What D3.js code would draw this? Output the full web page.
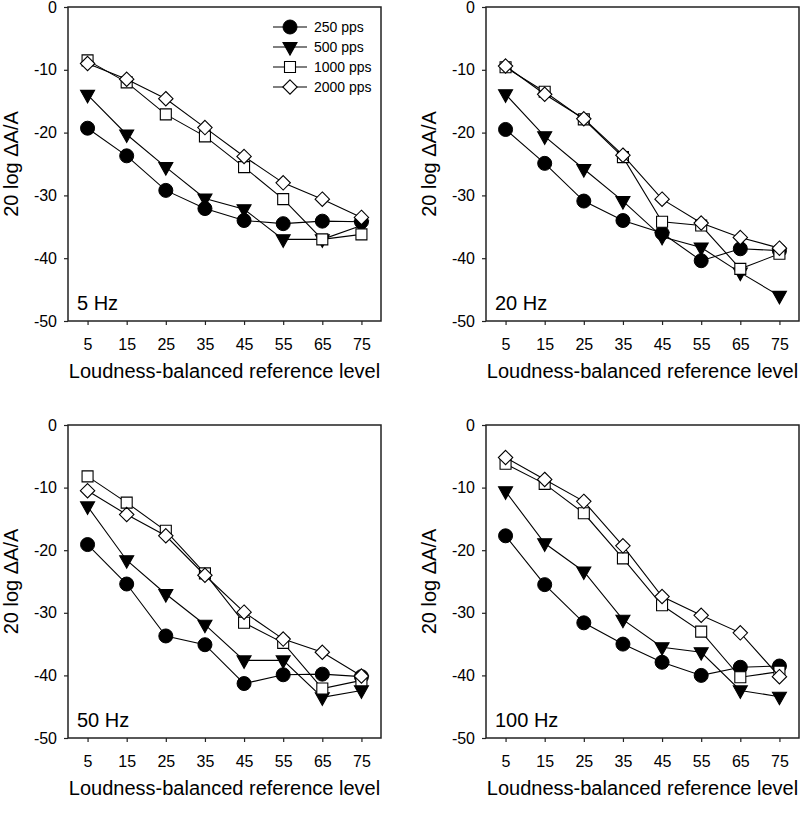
<!DOCTYPE html>
<html>
<head>
<meta charset="utf-8">
<script src="https://cdn.jsdelivr.net/npm/d3@7"></script>
<style>
  html, body { margin: 0; padding: 0; background: #fff; }
  svg { display: block; font-family: "Liberation Sans", Arial, sans-serif; }
</style>
</head>
<body>
<svg id="chart" width="800" height="828"></svg>
<script>
// ---------- data ----------
const levels = [5, 15, 25, 35, 45, 55, 65, 75];
const xTicks = [5, 15, 25, 35, 45, 55, 65, 75];
const yTicks = [0, -10, -20, -30, -40, -50];
const seriesNames = ["250 pps", "500 pps", "1000 pps", "2000 pps"];
const panelLabels = ["5 Hz", "20 Hz", "50 Hz", "100 Hz"];
const xTitle = "Loudness-balanced reference level";
const yTitle = "20 log \u0394A/A";

// 5 Hz
const hz5_250  = [-19.3, -23.7, -29.2, -32.1, -34.0, -34.5, -34.1, -34.2];
const hz5_500  = [-14.0, -20.3, -25.5, -30.5, -32.2, -37.0, -37.0, -34.8];
const hz5_1000 = [-8.5, -12.0, -17.1, -20.6, -25.5, -30.6, -37.0, -36.2];
const hz5_2000 = [-9.0, -11.5, -14.6, -19.2, -23.8, -28.0, -30.6, -33.5];
// 20 Hz
const hz20_250  = [-19.5, -24.9, -30.9, -34.0, -36.0, -40.4, -38.5, -38.8];
const hz20_500  = [-13.9, -20.6, -25.8, -30.9, -36.6, -38.3, -42.3, -46.0];
const hz20_1000 = [-9.6, -13.5, -17.9, -23.9, -34.2, -34.8, -41.7, -39.3];
const hz20_2000 = [-9.4, -13.9, -17.8, -23.6, -30.6, -34.4, -36.7, -38.4];
// 50 Hz
const hz50_250  = [-19.1, -25.4, -33.7, -35.1, -41.3, -39.9, -39.8, -40.2];
const hz50_500  = [-13.0, -21.6, -27.0, -31.9, -37.6, -37.6, -43.5, -42.4];
const hz50_1000 = [-8.2, -12.4, -16.9, -23.7, -31.6, -34.8, -42.1, -40.8];
const hz50_2000 = [-10.5, -14.3, -17.7, -24.0, -29.9, -34.2, -36.3, -40.1];
// 100 Hz
const hz100_250  = [-17.7, -25.5, -31.6, -35.0, -37.9, -40.0, -38.7, -38.5];
const hz100_500  = [-10.6, -18.9, -23.4, -31.1, -35.5, -36.3, -42.4, -43.4];
const hz100_1000 = [-6.2, -9.4, -14.1, -21.3, -28.8, -33.0, -40.3, -39.4];
const hz100_2000 = [-5.2, -8.7, -12.2, -19.3, -27.4, -30.4, -33.2, -40.2];

const panelData = [
  [hz5_250, hz5_500, hz5_1000, hz5_2000],
  [hz20_250, hz20_500, hz20_1000, hz20_2000],
  [hz50_250, hz50_500, hz50_1000, hz50_2000],
  [hz100_250, hz100_500, hz100_1000, hz100_2000]
];

// ---------- layout ----------
const boxes = [
  { l: 68,  r: 381, t: 7,   b: 321 },
  { l: 486, r: 799, t: 7,   b: 321 },
  { l: 68,  r: 381, t: 425, b: 738 },
  { l: 486, r: 799, t: 425, b: 738 }
];

// marker shapes (local coordinates around the data point)
const markerPaths = [
  null, // circle drawn as <circle>
  "M-7,-4.5L7,-4.5L0,8Z",
  "M-5.5,-5.5L5.5,-5.5L5.5,5.5L-5.5,5.5Z",
  "M0,-7.2L7.2,0L0,7.2L-7.2,0Z"
];
const markerFill = ["#000", "#000", "#fff", "#fff"];

const svg = d3.select("#chart");

function drawMarker(g, k, x, y) {
  if (k === 0) {
    g.append("circle").attr("cx", x).attr("cy", y).attr("r", 7)
      .attr("fill", "#000").attr("stroke", "#000").attr("stroke-width", 1);
  } else {
    g.append("path").attr("d", markerPaths[k])
      .attr("transform", `translate(${x},${y})`)
      .attr("fill", markerFill[k]).attr("stroke", "#000").attr("stroke-width", 1.1);
  }
}

boxes.forEach((bx, pi) => {
  const x = d3.scaleLinear().domain([0, 80]).range([bx.l, bx.r]);
  const y = d3.scaleLinear().domain([-50, 0]).range([bx.b, bx.t]);
  const g = svg.append("g");

  // axes
  const yAxis = d3.axisLeft(y).tickValues(yTicks).tickSize(4).tickPadding(7)
    .tickFormat(d => d === 0 ? "0" : "-" + Math.abs(d));
  const gy = g.append("g").attr("transform", `translate(${bx.l},0)`).call(yAxis);
  const xAxis = d3.axisBottom(x).tickValues(xTicks).tickSize(4).tickPadding(14);
  const gx = g.append("g").attr("transform", `translate(0,${bx.b})`).call(xAxis);
  [gx, gy].forEach(a => {
    a.select(".domain").remove();
    a.selectAll("line").attr("stroke", "#222").attr("stroke-width", 1.2);
    a.selectAll("text").attr("font-size", 16).attr("fill", "#000")
      .attr("font-family", '"Liberation Sans", Arial, sans-serif');
  });

  // frame
  g.append("rect").attr("x", bx.l).attr("y", bx.t)
    .attr("width", bx.r - bx.l).attr("height", bx.b - bx.t)
    .attr("fill", "none").attr("stroke", "#222").attr("stroke-width", 1.5);

  // titles
  g.append("text").attr("x", (bx.l + bx.r) / 2).attr("y", bx.b + 57)
    .attr("text-anchor", "middle").attr("font-size", 20).text(xTitle);
  g.append("text")
    .attr("transform", `translate(${bx.l - 50},${(bx.t + bx.b) / 2}) rotate(-90)`)
    .attr("text-anchor", "middle").attr("font-size", 20).text(yTitle);

  // panel label
  g.append("text").attr("x", bx.l + 9).attr("y", bx.b - 11)
    .attr("font-size", 20).text(panelLabels[pi]);

  // series
  const line = d3.line().x((d, i) => x(levels[i])).y(d => y(d));
  panelData[pi].forEach((vals, k) => {
    const sg = g.append("g");
    sg.append("path").attr("d", line(vals)).attr("fill", "none")
      .attr("stroke", "#000").attr("stroke-width", 1.1);
    vals.forEach((v, i) => drawMarker(sg, k, x(levels[i]), y(v)));
  });

  // legend (first panel only)
  if (pi === 0) {
    const lg = g.append("g");
    seriesNames.forEach((name, k) => {
      const ly = bx.t + 20 + k * 20;
      lg.append("line").attr("x1", bx.r - 108).attr("x2", bx.r - 74)
        .attr("y1", ly).attr("y2", ly).attr("stroke", "#000").attr("stroke-width", 1.1);
      drawMarker(lg, k, bx.r - 91, ly);
      lg.append("text").attr("x", bx.r - 67).attr("y", ly + 5)
        .attr("font-size", 14).text(name);
    });
  }
});
</script>
</body>
</html>
